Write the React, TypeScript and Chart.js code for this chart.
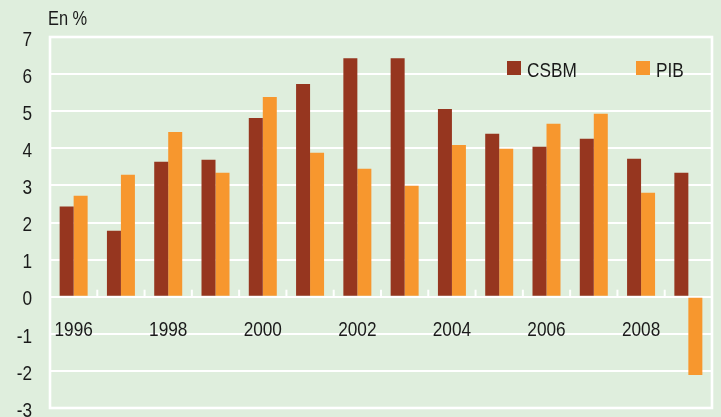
import React, { useEffect, useRef } from 'react';
import { Chart, registerables } from 'chart.js';

Chart.register(...registerables);

const years = ['1996', '1997', '1998', '1999', '2000', '2001', '2002', '2003', '2004', '2005', '2006', '2007', '2008', '2009'];
const shownYearLabels = ['1996', '', '1998', '', '2000', '', '2002', '', '2004', '', '2006', '', '2008', ''];
const csbmValues = [2.43, 1.78, 3.64, 3.69, 4.82, 5.73, 6.43, 6.43, 5.06, 4.39, 4.04, 4.26, 3.72, 3.34];
const pibValues = [2.72, 3.29, 4.44, 3.34, 5.38, 3.88, 3.45, 2.99, 4.09, 3.99, 4.66, 4.93, 2.8, -2.11];
const seriesNames = ['CSBM', 'PIB'];
const unitLabel = 'En %';
const yMin = -3;
const yMax = 7;

const BG = '#dfeedd';
const CSBM_COLOR = '#96361f';
const PIB_COLOR = '#f7972e';
const TEXT = '#1a1a1a';
const FONT = "'Liberation Sans', Arial, sans-serif";
const NARROW = 0.82;

function narrowText(ctx: CanvasRenderingContext2D, text: string, x: number, y: number, align: CanvasTextAlign) {
  ctx.save();
  ctx.translate(x, y);
  ctx.scale(NARROW, 1);
  ctx.textAlign = align;
  ctx.textBaseline = 'middle';
  ctx.fillText(text, 0, 0);
  ctx.restore();
}

const decorPlugin = {
  id: 'decor',
  beforeDraw(chart: any) {
    const { ctx, width, height } = chart;
    ctx.save();
    ctx.fillStyle = BG;
    ctx.fillRect(0, 0, width, height);
    ctx.restore();
  },
  beforeDatasetsDraw(chart: any) {
    const { ctx, chartArea } = chart;
    ctx.save();
    ctx.strokeStyle = '#ffffff';
    ctx.lineWidth = 2.6;
    ctx.strokeRect(chartArea.left, chartArea.top, chartArea.right - chartArea.left, chartArea.bottom - chartArea.top);
    ctx.restore();
  },
  afterDraw(chart: any) {
    const { ctx, chartArea, scales } = chart;
    const x = scales.x;
    const y = scales.y;
    ctx.save();
    const y0 = y.getPixelForValue(0);
    // small upward tick marks on zero line at category boundaries
    ctx.strokeStyle = '#ffffff';
    ctx.lineWidth = 2;
    for (let i = 1; i < years.length; i++) {
      const bx = (x.getPixelForValue(i - 1) + x.getPixelForValue(i)) / 2;
      ctx.beginPath();
      ctx.moveTo(bx, y0);
      ctx.lineTo(bx, y0 - 7);
      ctx.stroke();
    }
    ctx.fillStyle = TEXT;
    ctx.font = `21px ${FONT}`;
    // y tick labels
    y.ticks.forEach((t: any) => {
      narrowText(ctx, String(t.value), chartArea.left - 18, y.getPixelForValue(t.value) + 3, 'right');
    });
    // x tick labels (every other year)
    shownYearLabels.forEach((lab, i) => {
      if (lab) narrowText(ctx, lab, x.getPixelForValue(i), y0 + 34, 'center');
    });
    // unit label
    ctx.font = `20px ${FONT}`;
    narrowText(ctx, unitLabel, chartArea.left - 2, 19, 'left');
    // legend
    const items = chart.data.datasets.map((d: any) => ({ label: d.label, color: d.backgroundColor }));
    const starts = [chartArea.right - 205, chartArea.right - 76];
    ctx.font = `21px ${FONT}`;
    items.forEach((it: any, i: number) => {
      const sx = starts[i];
      ctx.fillStyle = it.color;
      ctx.fillRect(sx, 61, 14, 14);
      ctx.fillStyle = TEXT;
      narrowText(ctx, it.label, sx + 20, 71, 'left');
    });
    ctx.restore();
  },
};

export default function App() {
  const canvasRef = useRef<HTMLCanvasElement | null>(null);

  useEffect(() => {
    document.body.style.margin = '0';
    document.body.style.overflow = 'hidden';
    const canvas = canvasRef.current;
    if (!canvas) return;
    const chart = new Chart(canvas, {
      type: 'bar',
      data: {
        labels: years,
        datasets: [
          { label: seriesNames[0], data: csbmValues, backgroundColor: CSBM_COLOR, borderWidth: 0 },
          { label: seriesNames[1], data: pibValues, backgroundColor: PIB_COLOR, borderWidth: 0 },
        ],
      },
      options: {
        animation: false,
        responsive: false,
        maintainAspectRatio: false,
        layout: { padding: { left: 0, right: 9, top: 37, bottom: 9 } },
        datasets: { bar: { categoryPercentage: 0.592, barPercentage: 1 } },
        plugins: {
          legend: { display: false },
          tooltip: { enabled: false },
          title: { display: false },
        },
        scales: {
          x: {
            type: 'category',
            position: { y: 0 } as any,
            grid: { display: false },
            border: { display: false },
            ticks: { display: false },
            afterFit: (s: any) => {
              s.height = 0;
            },
          },
          y: {
            min: yMin,
            max: yMax,
            afterFit: (s: any) => {
              s.width = 50;
            },
            grid: { color: '#ffffff', lineWidth: 2, drawTicks: false },
            border: { display: false },
            ticks: { stepSize: 1, display: false },
          },
        },
      },
      plugins: [decorPlugin],
    });
    return () => chart.destroy();
  }, []);

  return (
    <div style={{ width: 721, height: 417 }}>
      <canvas ref={canvasRef} width={721} height={417} style={{ display: 'block', width: 721, height: 417 }} />
    </div>
  );
}
